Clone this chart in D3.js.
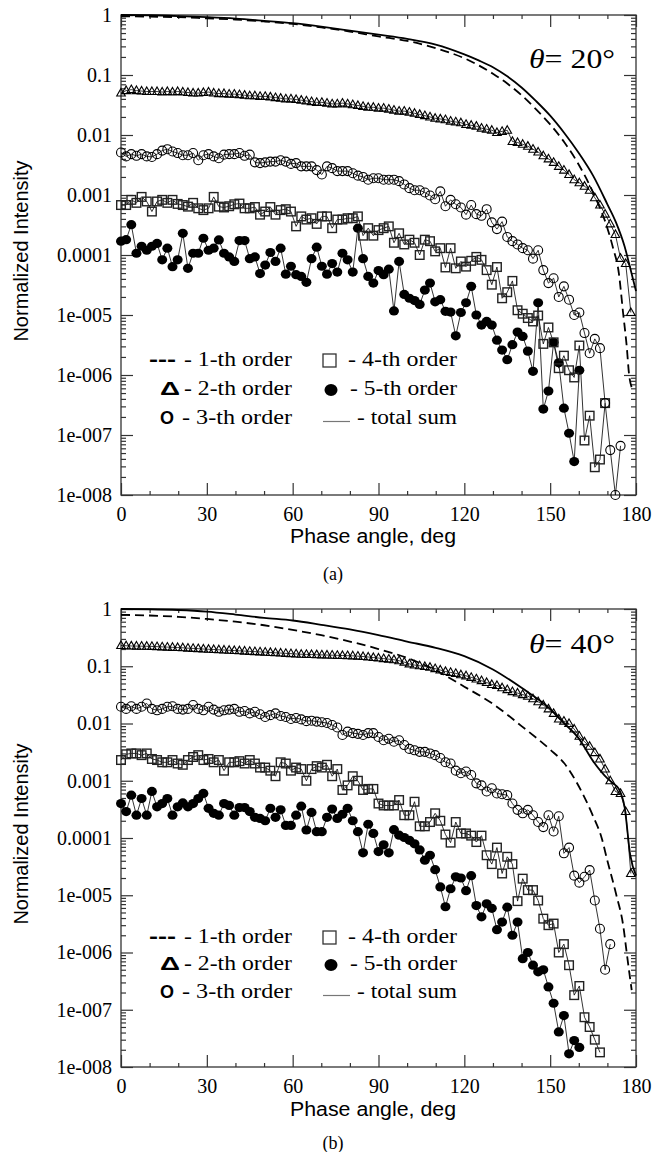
<!DOCTYPE html>
<html>
<head>
<meta charset="utf-8">
<script src="https://cdn.jsdelivr.net/npm/d3@7"></script>
<style>
body { margin: 0; background: #fff; }
svg { display: block; }
</style>
</head>
<body>
<svg id="chart" width="668" height="1152"></svg>
<script>
// phase angles of the computed points (deg)
var angles = [0,1.8,3.6,5.4,7.2,9,10.8,12.6,14.4,16.2,18,19.8,21.6,23.4,25.2,27,28.8,30.6,32.4,34.2,
  36,37.8,39.6,41.4,43.2,45,46.8,48.6,50.4,52.2,54,55.8,57.6,59.4,61.2,63,64.8,66.6,68.4,70.2,
  72,73.8,75.6,77.4,79.2,81,82.8,84.6,86.4,88.2,90,91.8,93.6,95.4,97.2,99,100.8,102.6,104.4,106.2,
  108,109.8,111.6,113.4,115.2,117,118.8,120.6,122.4,124.2,126,127.8,129.6,131.4,133.2,135,136.8,138.6,140.4,142.2,
  144,145.8,147.6,149.4,151.2,153,154.8,156.6,158.4,160.2,162,163.8,165.6,167.4,169.2,171,172.8,174.6,176.4,178.2];

var xTicks = [0, 30, 60, 90, 120, 150, 180];
var xMinor = [10, 20, 40, 50, 70, 80, 100, 110, 130, 140, 160, 170];
var yTicks = [1e-8, 1e-7, 1e-6, 1e-5, 1e-4, 1e-3, 1e-2, 1e-1, 1];
var yTickLabels = ["1e-008", "1e-007", "1e-006", "1e-005", "0.0001", "0.001", "0.01", "0.1", "1"];
var legendLeft = ["- 1-th order", "- 2-th order", "- 3-th order"];
var legendRight = ["- 4-th order", "- 5-th order", "- total sum"];

// ---- panel (a), theta = 20 ----
var totalAngA = [0,10,20,30,40,50,60,70,80,90,100,110,120,125,130,135,140,145,150,155,160,165,170,173,176,178,180];
var totalA = [1.0,0.99,0.96,0.92,0.87,0.80,0.73,0.64,0.55,0.47,0.40,0.32,0.22,0.175,0.135,0.095,0.062,0.037,0.021,0.0107,0.005,0.0021,0.0007,0.00035,0.00014,0.00006,0.000025];
var firstAngA = [0,10,20,30,40,50,60,70,80,90,100,110,120,125,130,135,140,145,150,155,160,165,170,172,174,175.5,176.7,177.6,178.6];
var firstA = [0.95,0.94,0.92,0.88,0.84,0.78,0.71,0.62,0.53,0.44,0.37,0.28,0.19,0.145,0.105,0.072,0.046,0.027,0.015,0.0075,0.0032,0.0011,0.00028,0.00013,0.00005,0.0000107,0.0000032,0.000001,0.0000006];
var order2A = [0.050,0.055,0.057,0.055,0.054,0.053,0.053,0.053,0.052,0.053,
  0.052,0.053,0.052,0.051,0.050,0.050,0.051,0.052,0.050,0.049,
  0.049,0.048,0.048,0.047,0.046,0.045,0.045,0.044,0.044,0.043,
  0.042,0.041,0.040,0.040,0.039,0.038,0.037,0.036,0.035,0.035,
  0.034,0.033,0.033,0.034,0.033,0.032,0.031,0.030,0.029,0.029,
  0.028,0.028,0.027,0.026,0.025,0.025,0.024,0.023,0.022,0.021,
  0.020,0.019,0.0185,0.018,0.017,0.0165,0.016,0.015,0.0145,0.014,
  0.013,0.0125,0.012,0.011,0.0115,0.012,0.0078,0.0075,0.0070,0.0065,
  0.0058,0.0052,0.0045,0.0040,0.0035,0.0030,0.0026,0.0022,0.0018,0.0016,
  0.0014,0.0012,0.0009,0.00068,0.00048,0.00033,0.00022,0.000088,0.000072,0.000011];
var order3A = [0.0051,0.0044,0.0048,0.0045,0.0048,0.0044,0.0043,0.0048,0.0055,0.0058,
  0.0053,0.0050,0.0046,0.0046,0.0050,0.0038,0.0046,0.0048,0.0044,0.0041,
  0.0047,0.0048,0.0048,0.0050,0.0045,0.0047,0.0035,0.0034,0.0035,0.0036,
  0.0036,0.0038,0.0036,0.0033,0.0034,0.0030,0.0030,0.0030,0.0026,0.0022,
  0.0030,0.0028,0.0025,0.0025,0.0025,0.0023,0.0021,0.0020,0.0018,0.0019,
  0.0019,0.0018,0.0018,0.0018,0.0017,0.0015,0.0013,0.0012,0.0012,0.0011,
  0.00098,0.00085,0.00115,0.00065,0.00083,0.00070,0.00062,0.00047,0.00068,0.00048,
  0.00045,0.00058,0.00035,0.00027,0.00036,0.00020,0.00017,0.00015,0.00013,0.00012,
  0.000087,0.00012,0.000056,0.000034,0.000041,0.000020,0.000030,0.000018,0.000010,0.000011,
  0.0000050,0.0000023,0.0000040,0.0000028,0.00000034,0.000000056,0.00000001,0.000000066];
var order4A = [0.00068,0.00068,0.00083,0.00074,0.00093,0.00078,0.00053,0.00078,0.00083,0.00074,
  0.00083,0.00071,0.00068,0.00064,0.00074,0.00060,0.00056,0.00060,0.00093,0.00064,
  0.00062,0.00065,0.00070,0.00072,0.00060,0.00060,0.00063,0.00047,0.00053,0.00063,
  0.00047,0.00056,0.00058,0.00053,0.00030,0.00044,0.00039,0.00041,0.00033,0.00044,
  0.00044,0.00028,0.00039,0.00039,0.00041,0.00041,0.00044,0.00021,0.00028,0.00021,
  0.00026,0.00028,0.00030,0.00016,0.00023,0.00015,0.00018,0.00016,0.00010,0.00018,
  0.00017,0.000115,0.00013,0.000062,0.00013,0.000060,0.000078,0.000064,0.000080,0.000093,
  0.000083,0.000056,0.000032,0.000063,0.000019,0.000024,0.000037,0.000012,0.0000105,0.0000089,
  0.0000078,0.0000098,0.0000033,0.0000062,0.0000035,0.0000013,0.0000021,0.0000012,0.00000091,0.0000031,
  0.000000081,0.00000021,0.000000029,0.000000039,0.00000034];
var order5A = [1.7e-4,1.8e-4,3.2e-4,1.07e-4,1.4e-4,1.2e-4,1.4e-4,1.56e-4,8.3e-5,1.3e-4,
  6.4e-5,8.3e-5,2.3e-4,6.0e-5,1.07e-4,1.07e-4,1.9e-4,1.2e-4,1.3e-4,1.78e-4,
  1.07e-4,9.3e-5,7.8e-5,1.74e-4,1.74e-4,8.7e-5,9.3e-5,4.9e-5,6.8e-5,1.1e-4,
  7.8e-5,1.3e-4,4.8e-5,6.5e-5,4.7e-5,4.4e-5,3.5e-5,8.7e-5,1.35e-4,6.5e-5,
  4.8e-5,7.2e-5,5.2e-5,1.07e-4,8.3e-5,5.2e-5,2.8e-4,8.7e-5,4.4e-5,3.4e-5,
  5.5e-5,4.7e-5,5.8e-5,1.17e-5,7.8e-5,2.2e-5,1.9e-5,1.74e-5,1.5e-5,2.6e-5,
  3.4e-5,1.66e-5,1.8e-5,1.15e-5,1.12e-5,4.5e-6,1.1e-5,1.6e-5,3.0e-5,1.0e-5,
  6.8e-6,7.8e-6,6.8e-6,3.8e-6,2.6e-6,1.8e-6,3.2e-6,5.2e-6,4.4e-6,2.5e-6,
  1.15e-6,1.6e-5,2.7e-7,5.4e-7,3.5e-6,1.6e-6,2.8e-7,1.07e-7,3.6e-8,1.2e-6];

// ---- panel (b), theta = 40 ----
var totalAngB = [0,10,20,30,40,50,60,70,80,90,100,110,120,130,140,150,155,160,165,170,172,174,176,178,180];
var totalB = [1.0,0.99,0.96,0.9,0.8,0.7,0.63,0.53,0.44,0.35,0.27,0.21,0.15,0.088,0.042,0.018,0.01,0.0055,0.0022,0.0011,0.0009,0.00072,0.00035,0.00005,0.000022];
var firstAngB = [0,10,20,30,40,50,60,70,80,90,100,110,120,130,140,150,155,160,165,168,170,173,175.6,176.8,177.7,178.5];
var firstB = [0.79,0.77,0.73,0.67,0.6,0.52,0.43,0.35,0.27,0.2,0.14,0.085,0.044,0.022,0.009,0.0035,0.002,0.0008,0.00024,0.0001,0.00004,0.0000107,0.0000028,0.00000095,0.00000043,0.00000022];
var order2B = [0.230,0.228,0.226,0.225,0.224,0.223,0.222,0.220,0.218,0.216,
  0.214,0.212,0.210,0.207,0.205,0.203,0.200,0.198,0.196,0.194,
  0.192,0.190,0.188,0.186,0.184,0.182,0.180,0.178,0.176,0.174,
  0.172,0.170,0.168,0.166,0.164,0.162,0.161,0.160,0.159,0.158,
  0.157,0.156,0.155,0.154,0.153,0.152,0.150,0.148,0.145,0.142,
  0.139,0.136,0.133,0.130,0.125,0.118,0.110,0.105,0.102,0.099,
  0.096,0.091,0.086,0.081,0.078,0.075,0.071,0.068,0.064,0.060,
  0.056,0.052,0.048,0.046,0.042,0.039,0.036,0.034,0.032,0.030,
  0.027,0.024,0.021,0.018,0.015,0.012,0.011,0.010,0.0080,0.0060,
  0.0048,0.0040,0.0031,0.0024,0.0016,0.00100,0.00065,0.00060,0.00029,0.000024];
var order3B = [0.0196,0.018,0.020,0.018,0.0196,0.0224,0.018,0.017,0.018,0.0196,
  0.020,0.018,0.0175,0.018,0.021,0.018,0.017,0.0196,0.0175,0.016,
  0.017,0.0175,0.018,0.016,0.0165,0.015,0.016,0.0145,0.013,0.014,
  0.015,0.0135,0.013,0.012,0.0125,0.0118,0.011,0.0112,0.0108,0.0105,
  0.0102,0.0094,0.0085,0.0063,0.0072,0.0068,0.0066,0.0063,0.0068,0.0068,
  0.0058,0.0051,0.0054,0.0048,0.0051,0.0042,0.0036,0.0034,0.0032,0.0032,
  0.0030,0.0028,0.0025,0.0021,0.0020,0.0015,0.00135,0.00145,0.00126,0.0009,
  0.00083,0.00065,0.00074,0.00060,0.00058,0.00056,0.00040,0.00031,0.00027,0.00031,
  0.00025,0.00019,0.000155,0.00025,0.00013,0.00024,0.000054,0.000068,0.000022,0.0000166,
  0.000021,0.0000275,0.0000081,0.0000026,0.0000005,0.0000014];
var order4B = [0.0023,0.0029,0.0030,0.0030,0.0028,0.0030,0.0024,0.0023,0.0021,0.0021,
  0.0023,0.0020,0.0019,0.0023,0.0026,0.0028,0.0023,0.0024,0.0021,0.0023,
  0.0015,0.0021,0.0021,0.0022,0.0020,0.0023,0.0020,0.0017,0.0017,0.0015,
  0.0012,0.0021,0.0020,0.0015,0.0017,0.0016,0.0010,0.0016,0.0018,0.0017,
  0.0019,0.0012,0.0016,0.00069,0.00083,0.0012,0.0010,0.00069,0.00072,0.00072,
  0.00040,0.00037,0.00037,0.00037,0.00046,0.00025,0.00025,0.00043,0.00016,0.00016,
  0.00019,0.00027,0.00020,0.000115,0.000083,0.00019,0.00012,0.00012,0.00011,0.000085,
  0.00011,0.00005,0.000035,0.000068,0.000024,0.000047,0.000035,0.0000079,0.0000195,0.0000123,
  0.0000123,0.0000081,0.0000039,0.000003,0.0000032,0.000001,0.0000014,0.0000006,0.00000018,0.00000026,
  0.000000074,0.00000005,0.00000003,0.000000018];
var order5B = [0.00040,0.00029,0.00056,0.00025,0.00049,0.00025,0.00065,0.00035,0.00040,0.00049,
  0.00025,0.00035,0.00041,0.00035,0.00040,0.00049,0.00060,0.00033,0.00027,0.00025,
  0.00040,0.00037,0.00025,0.00034,0.00034,0.00029,0.00023,0.00022,0.00020,0.00033,
  0.00023,0.00031,0.000166,0.000166,0.00025,0.00036,0.000138,0.00028,0.000129,0.000129,
  0.00023,0.00032,0.00022,0.00026,0.00033,0.00020,0.000129,0.000055,0.000174,0.00012,
  0.000058,0.000076,0.000055,0.00014,0.000112,0.000102,0.000091,0.000079,0.000062,0.000041,
  0.000050,0.000028,0.000014,0.0000063,0.000013,0.000021,0.000020,0.000012,0.000022,0.0000066,
  0.0000042,0.0000071,0.0000059,0.0000025,0.0000034,0.0000062,0.0000020,0.0000034,0.00000078,0.0000010,
  0.0000006,0.00000046,0.0000005,0.00000025,0.00000013,0.000000041,0.000000079,0.000000017,0.000000029,0.000000022];

var serif = "Liberation Serif, Times New Roman, serif";
var sans = "Liberation Sans, Arial, sans-serif";

var panels = [
  {top: 15, bottom: 495, theta: "20", thetaBase: 68, legendBase: [366, 395, 424], xLabelBase: 543,
   caption: "(a)", captionBase: 580,
   total: [totalAngA, totalA], first: [firstAngA, firstA], o2: order2A, o3: order3A, o4: order4A, o5: order5A},
  {top: 609, bottom: 1067, theta: "40", thetaBase: 653, legendBase: [943, 970, 998], xLabelBase: 1116,
   caption: "(b)", captionBase: 1149,
   total: [totalAngB, totalB], first: [firstAngB, firstB], o2: order2B, o3: order3B, o4: order4B, o5: order5B}
];

var svg = d3.select("#chart");
var x = d3.scaleLinear().domain([0, 180]).range([121, 636]);

function styleAxis(sel) {
  sel.attr("font-family", null);
  sel.select(".domain").remove();
  sel.selectAll(".tick line").attr("stroke", "#333").attr("stroke-width", 1.2);
  sel.selectAll("text").style("font-family", serif).attr("font-size", 20).attr("fill", "#000");
}

function drawPanel(p) {
  var y = d3.scaleLog().domain([1e-8, 1]).range([p.bottom, p.top]);
  var g = svg.append("g");

  var yMinor = [];
  yTicks.slice(0, -1).forEach(function(d) {
    for (var k = 2; k <= 9; k++) yMinor.push(d * k);
  });

  // ticks point inward on every side
  g.append("g").attr("transform", "translate(0," + p.bottom + ")")
    .call(d3.axisBottom(x).tickValues(xMinor).tickSize(-4).tickSizeOuter(0).tickFormat(""))
    .call(styleAxis);
  g.append("g").attr("transform", "translate(0," + p.bottom + ")")
    .call(d3.axisBottom(x).tickValues(xTicks).tickSize(-12).tickSizeOuter(0).tickPadding(12).tickFormat(d3.format("d")))
    .call(styleAxis);
  g.append("g").attr("transform", "translate(0," + p.top + ")")
    .call(d3.axisTop(x).tickValues(xMinor).tickSize(-4).tickSizeOuter(0).tickFormat(""))
    .call(styleAxis);
  g.append("g").attr("transform", "translate(0," + p.top + ")")
    .call(d3.axisTop(x).tickValues(xTicks).tickSize(-12).tickSizeOuter(0).tickFormat(""))
    .call(styleAxis);
  g.append("g").attr("transform", "translate(121,0)")
    .call(d3.axisLeft(y).tickValues(yMinor).tickSize(-5).tickSizeOuter(0).tickFormat(""))
    .call(styleAxis);
  g.append("g").attr("transform", "translate(121,0)")
    .call(d3.axisLeft(y).tickValues(yTicks).tickSize(-12).tickSizeOuter(0).tickPadding(9)
      .tickFormat(function(d, i) { return yTickLabels[i]; }))
    .call(styleAxis);
  g.append("g").attr("transform", "translate(636,0)")
    .call(d3.axisRight(y).tickValues(yMinor).tickSize(-5).tickSizeOuter(0).tickFormat(""))
    .call(styleAxis);
  g.append("g").attr("transform", "translate(636,0)")
    .call(d3.axisRight(y).tickValues(yTicks).tickSize(-12).tickSizeOuter(0).tickFormat(""))
    .call(styleAxis);

  g.append("rect")
    .attr("x", 121).attr("y", p.top)
    .attr("width", 515).attr("height", p.bottom - p.top)
    .attr("fill", "none").attr("stroke", "#333").attr("stroke-width", 1.3);

  var smooth = d3.line().curve(d3.curveMonotoneX)
    .x(function(d) { return x(d[0]); })
    .y(function(d) { return y(d[1]); });
  var straight = d3.line()
    .x(function(d) { return x(d[0]); })
    .y(function(d) { return y(d[1]); });

  g.append("path")
    .attr("d", smooth(d3.zip(p.total[0], p.total[1])))
    .attr("fill", "none").attr("stroke", "#000").attr("stroke-width", 1.8);
  g.append("path")
    .attr("d", smooth(d3.zip(p.first[0], p.first[1])))
    .attr("fill", "none").attr("stroke", "#000").attr("stroke-width", 1.8)
    .attr("stroke-dasharray", "9,5");

  [p.o5, p.o4, p.o3, p.o2].forEach(function(vals) {
    g.append("path")
      .attr("d", straight(d3.zip(angles, vals)))
      .attr("fill", "none").attr("stroke", "#000").attr("stroke-width", 0.8);
  });

  g.selectAll(".dot5").data(d3.zip(angles, p.o5)).enter().append("ellipse")
    .attr("cx", function(d) { return x(d[0]); })
    .attr("cy", function(d) { return y(d[1]); })
    .attr("rx", 5).attr("ry", 4.6).attr("fill", "#000");

  g.selectAll(".sq4").data(d3.zip(angles, p.o4)).enter().append("rect")
    .attr("x", function(d) { return x(d[0]) - 4.3; })
    .attr("y", function(d) { return y(d[1]) - 4.3; })
    .attr("width", 8.6).attr("height", 8.6)
    .attr("fill", "none").attr("stroke", "#222").attr("stroke-width", 1.4);

  g.selectAll(".ci3").data(d3.zip(angles, p.o3)).enter().append("circle")
    .attr("cx", function(d) { return x(d[0]); })
    .attr("cy", function(d) { return y(d[1]); })
    .attr("r", 4.5)
    .attr("fill", "none").attr("stroke", "#000").attr("stroke-width", 1.1);

  g.selectAll(".tr2").data(d3.zip(angles, p.o2)).enter().append("path")
    .attr("transform", function(d) { return "translate(" + x(d[0]) + "," + y(d[1]) + ")"; })
    .attr("d", "M0,-4.6L4.3,3L-4.3,3Z")
    .attr("fill", "none").attr("stroke", "#000").attr("stroke-width", 1.1);

  // theta label
  var th = g.append("text")
    .attr("x", 615).attr("y", p.thetaBase)
    .attr("text-anchor", "end")
    .style("font-family", serif).attr("font-size", 27)
    .attr("textLength", 86).attr("lengthAdjust", "spacingAndGlyphs");
  th.append("tspan").attr("font-style", "italic").text("\u03b8");
  th.append("tspan").text("= " + p.theta + "\u00b0");

  // legend
  var b = p.legendBase;
  var lg = g.append("g");
  lg.append("text").attr("x", 149).attr("y", b[0])
    .style("font-family", sans).attr("font-weight", "bold").attr("font-size", 20)
    .attr("textLength", 27).attr("lengthAdjust", "spacingAndGlyphs").text("---");
  lg.append("text").attr("x", 160).attr("y", b[1])
    .style("font-family", sans).attr("font-weight", "bold").attr("font-size", 18)
    .attr("textLength", 20).attr("lengthAdjust", "spacingAndGlyphs").text("\u0394");
  lg.append("text").attr("x", 160).attr("y", b[2])
    .style("font-family", sans).attr("font-weight", "bold").attr("font-size", 18)
    .attr("textLength", 14).attr("lengthAdjust", "spacingAndGlyphs").text("O");
  var leftX = [184, 184, 182];
  legendLeft.forEach(function(t, i) {
    lg.append("text").attr("x", leftX[i]).attr("y", b[i])
      .style("font-family", serif).attr("font-size", 20)
      .attr("textLength", 292 - leftX[i]).attr("lengthAdjust", "spacingAndGlyphs").text(t);
  });
  lg.append("rect").attr("x", 323).attr("y", b[0] - 12).attr("width", 13).attr("height", 13)
    .attr("fill", "none").attr("stroke", "#333").attr("stroke-width", 1.3);
  lg.append("ellipse").attr("cx", 331).attr("cy", b[1] - 5).attr("rx", 6.5).attr("ry", 6).attr("fill", "#000");
  lg.append("line").attr("x1", 323).attr("x2", 350).attr("y1", b[2] - 2.5).attr("y2", b[2] - 2.5)
    .attr("stroke", "#777").attr("stroke-width", 1.2);
  var rightX = [348, 350, 357];
  legendRight.forEach(function(t, i) {
    lg.append("text").attr("x", rightX[i]).attr("y", b[i])
      .style("font-family", serif).attr("font-size", 20)
      .attr("textLength", 457 - rightX[i]).attr("lengthAdjust", "spacingAndGlyphs").text(t);
  });

  // axis titles
  g.append("text")
    .attr("x", 373).attr("y", p.xLabelBase)
    .attr("text-anchor", "middle")
    .style("font-family", sans).attr("font-size", 20)
    .attr("textLength", 166).attr("lengthAdjust", "spacingAndGlyphs")
    .text("Phase angle, deg");
  g.append("text")
    .attr("transform", "translate(28," + ((p.top + p.bottom) / 2 - 4) + ") rotate(-90)")
    .attr("text-anchor", "middle")
    .style("font-family", sans).attr("font-size", 20)
    .text("Normalized Intensity");

  g.append("text")
    .attr("x", 333).attr("y", p.captionBase)
    .attr("text-anchor", "middle")
    .style("font-family", serif).attr("font-size", 18)
    .text(p.caption);
}

panels.forEach(drawPanel);
</script>
</body>
</html>
